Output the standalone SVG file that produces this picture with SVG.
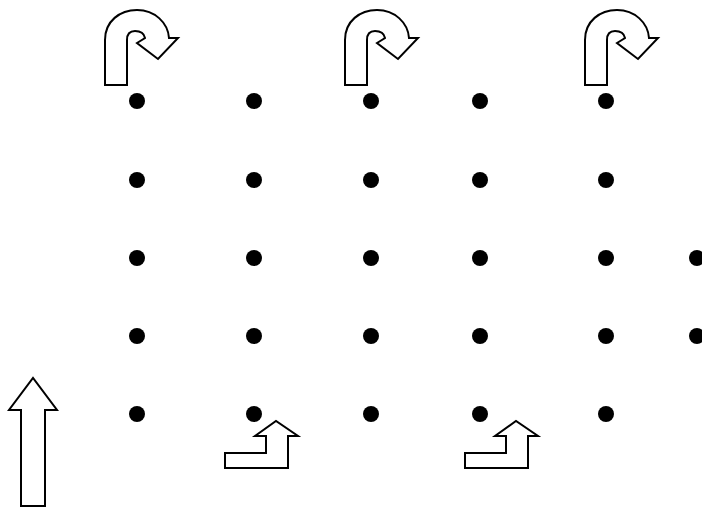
<svg xmlns="http://www.w3.org/2000/svg" width="702" height="507" viewBox="0 0 702 507">
<defs>
<style>
.arr{fill:#fff;stroke:#000;stroke-width:2;stroke-linejoin:miter}
.dot{fill:#000}
</style>
<path id="uturn" d="M105,85 L105,40 C105,21 120,10 137,10 C155,10 168,23 169,38 L178,38 L158,59 L137,43 L145,38 C144,33 140,31 135,31 C129,31 127,35 127,40 L127,85 Z"/>
<path id="lturn" d="M225,468 L288,468 L288,436 L298,436 L276,421 L255,436 L266,436 L266,453 L225,453 Z"/>
</defs>
<g id="dots">
<circle class="dot" cx="137" cy="101" r="8"/><circle class="dot" cx="137" cy="180" r="8"/><circle class="dot" cx="137" cy="258" r="8"/><circle class="dot" cx="137" cy="336" r="8"/><circle class="dot" cx="137" cy="414" r="8"/>
<circle class="dot" cx="254" cy="101" r="8"/><circle class="dot" cx="254" cy="180" r="8"/><circle class="dot" cx="254" cy="258" r="8"/><circle class="dot" cx="254" cy="336" r="8"/><circle class="dot" cx="254" cy="414" r="8"/>
<circle class="dot" cx="371" cy="101" r="8"/><circle class="dot" cx="371" cy="180" r="8"/><circle class="dot" cx="371" cy="258" r="8"/><circle class="dot" cx="371" cy="336" r="8"/><circle class="dot" cx="371" cy="414" r="8"/>
<circle class="dot" cx="480" cy="101" r="8"/><circle class="dot" cx="480" cy="180" r="8"/><circle class="dot" cx="480" cy="258" r="8"/><circle class="dot" cx="480" cy="336" r="8"/><circle class="dot" cx="480" cy="414" r="8"/>
<circle class="dot" cx="606" cy="101" r="8"/><circle class="dot" cx="606" cy="180" r="8"/><circle class="dot" cx="606" cy="258" r="8"/><circle class="dot" cx="606" cy="336" r="8"/><circle class="dot" cx="606" cy="414" r="8"/>
<circle class="dot" cx="697" cy="258" r="8"/><circle class="dot" cx="697" cy="336" r="8"/>
</g>
<g id="arrows">
<use href="#uturn" class="arr"/>
<use href="#uturn" class="arr" transform="translate(240,0)"/>
<use href="#uturn" class="arr" transform="translate(480,0)"/>
<use href="#lturn" class="arr"/>
<use href="#lturn" class="arr" transform="translate(240,0)"/>
<path class="arr" d="M21,506 L21,410 L9,410 L33,378 L57,410 L45,410 L45,506 Z"/>
</g>
</svg>
